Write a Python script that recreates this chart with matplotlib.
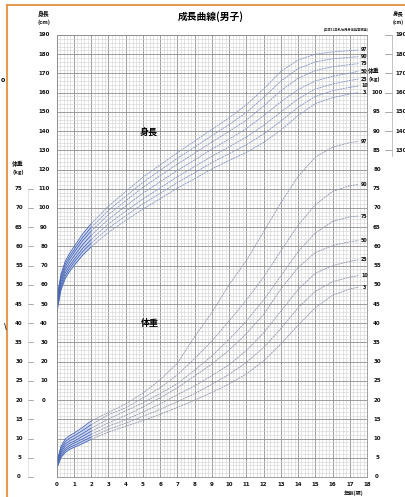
import numpy as np
import matplotlib
matplotlib.use("Agg")
import matplotlib.pyplot as plt
from matplotlib.transforms import blended_transform_factory

plt.rcParams['font.family'] = ['Noto Sans CJK JP', 'DejaVu Sans']

# age points (years)
ages = [0, 0.25, 0.5, 0.75, 1, 1.5, 2, 3, 4, 5, 6, 7, 8, 9, 10, 11, 12, 13, 14, 15, 16, 17, 17.5]
pct_names = ["3", "10", "25", "50", "75", "90", "97"]

# height percentiles, cm
h_p3 = [45.2, 57.4, 63.4, 67.0, 70.0, 75.4, 79.8, 87.3, 93.5, 99.4, 104.8, 110.3, 115.2, 120.3, 124.7, 128.9, 134.1, 140.5, 148.1, 154.3, 157.4, 159.3, 160.0]
h_p10 = [46.4, 58.7, 64.8, 68.5, 71.6, 77.2, 81.7, 89.5, 95.9, 102.1, 107.6, 113.2, 118.3, 123.6, 128.2, 132.9, 138.5, 145.2, 152.4, 158.0, 161.0, 162.8, 163.5]
h_p25 = [47.7, 60.0, 66.3, 70.0, 73.1, 78.9, 83.6, 91.7, 98.3, 104.7, 110.4, 116.2, 121.5, 126.9, 131.8, 136.9, 143.0, 149.9, 156.7, 161.9, 164.5, 166.3, 167.1]
h_p50 = [49.0, 61.5, 67.9, 71.7, 74.9, 80.9, 85.8, 94.1, 101.0, 107.7, 113.6, 119.5, 125.0, 130.6, 135.8, 141.3, 148.0, 155.2, 161.6, 166.1, 168.5, 170.2, 171.1]
h_p75 = [50.3, 63.0, 69.5, 73.4, 76.7, 82.9, 88.0, 96.5, 103.7, 110.7, 116.8, 122.8, 128.5, 134.3, 139.8, 145.7, 153.0, 161.0, 167.5, 171.5, 173.5, 174.6, 175.1]
h_p90 = [51.6, 64.3, 71.0, 74.9, 78.2, 84.6, 89.9, 98.7, 106.1, 113.3, 119.6, 125.8, 131.7, 137.6, 143.4, 149.7, 157.5, 166.0, 172.5, 176.0, 177.6, 178.4, 178.7]
h_p97 = [52.8, 65.6, 72.4, 76.4, 79.8, 86.4, 91.8, 100.9, 108.5, 116.0, 122.4, 128.7, 134.8, 140.9, 146.9, 153.7, 161.9, 171.0, 177.0, 180.0, 181.2, 181.9, 182.2]

# weight percentiles, kg
w_p3 = [2.1, 5.1, 6.4, 7.2, 7.7, 8.7, 9.8, 11.7, 13.2, 14.7, 16.3, 18.1, 20.0, 22.0, 24.2, 26.8, 30.2, 34.6, 39.5, 44.0, 47.3, 48.9, 49.4]
w_p10 = [2.5, 5.5, 6.9, 7.7, 8.2, 9.3, 10.4, 12.4, 14.0, 15.8, 17.6, 19.6, 21.7, 24.1, 26.7, 29.8, 33.7, 38.6, 44.0, 48.3, 50.8, 52.0, 52.4]
w_p25 = [2.8, 6.0, 7.4, 8.2, 8.8, 9.9, 11.1, 13.2, 14.9, 16.9, 19.0, 21.4, 23.7, 26.4, 29.2, 32.9, 37.5, 43.1, 48.8, 53.0, 55.0, 56.1, 56.5]
w_p50 = [3.0, 6.5, 8.0, 8.8, 9.3, 10.6, 11.9, 14.1, 16.0, 18.2, 20.6, 23.2, 26.3, 29.4, 33.0, 37.3, 42.3, 48.9, 54.5, 58.4, 60.2, 61.2, 61.5]
w_p75 = [3.3, 7.0, 8.6, 9.4, 10.0, 11.3, 12.7, 15.1, 17.2, 19.3, 21.7, 24.3, 27.8, 31.5, 35.8, 40.6, 46.0, 52.3, 58.6, 63.5, 66.5, 67.7, 67.9]
w_p90 = [3.6, 7.5, 9.2, 10.1, 10.7, 12.1, 13.6, 16.2, 18.0, 20.6, 23.2, 26.6, 30.8, 35.4, 40.6, 46.0, 52.0, 58.8, 65.5, 70.8, 74.3, 75.8, 76.1]
w_p97 = [3.8, 8.0, 9.9, 10.8, 11.4, 12.9, 14.6, 16.8, 19.0, 21.8, 25.3, 29.6, 36.5, 42.8, 50.0, 56.3, 63.8, 71.3, 78.2, 83.2, 85.8, 87.0, 87.3]

height_curves = [h_p3, h_p10, h_p25, h_p50, h_p75, h_p90, h_p97]
weight_curves = [w_p3, w_p10, w_p25, w_p50, w_p75, w_p90, w_p97]

# axis tick values
age_ticks = list(range(0, 19))
height_left = list(range(0, 191, 10))
height_right = list(range(130, 191, 10))
weight_left = list(range(0, 76, 5))
weight_right = list(range(0, 101, 5))


def w2h(w):
    # the weight scale shares the grid with height: 0 kg at -40 cm, 5 kg per 10 cm
    return 2 * np.asarray(w, dtype=float) - 40


W, H = 406, 497
fig = plt.figure(figsize=(W / 100, H / 100), dpi=100)
ax = fig.add_axes([56.7 / W, 1 - 477 / H, (367 - 56.7) / W, (477 - 35) / H])
ax.set_xlim(0, 18)
ax.set_ylim(-40, 190)

ax.set_xticks(age_ticks)
ax.set_xticks(np.arange(0, 18.01, 0.2), minor=True)
ax.set_yticks(np.arange(-40, 191, 10))
ax.set_yticks(np.arange(-40, 191, 2), minor=True)
ax.grid(which='minor', color='#d2d2d2', lw=0.4)
ax.grid(which='major', color='#8e8e8e', lw=0.6)
ax.set_axisbelow(True)
ax.tick_params(which='both', length=0, labelbottom=False, labelleft=False)
for sp in ax.spines.values():
    sp.set_color('#8e8e8e')
    sp.set_linewidth(0.6)

x = np.array(ages)
inf = x <= 2
later = x >= 2

# infant part, blue with light band
ax.fill_between(x[inf], np.array(h_p3)[inf], np.array(h_p97)[inf], color='#c4d0f0', alpha=0.75, lw=0)
ax.fill_between(x[inf], w2h(w_p3)[inf], w2h(w_p97)[inf], color='#c4d0f0', alpha=0.75, lw=0)
for hc, wc in zip(height_curves, weight_curves):
    hc = np.array(hc)
    wc = w2h(wc)
    ax.plot(x[inf], hc[inf], color='#4664b4', lw=0.6)
    ax.plot(x[inf], wc[inf], color='#4664b4', lw=0.6)
    ax.plot(x[later], hc[later], color='#8694c2', lw=0.6, ls=(0, (2.5, 0.8)))
    ax.plot(x[later], wc[later], color='#9298ae', lw=0.6, ls=(0, (2.5, 0.8)))

lab = dict(fontsize=4.0, fontweight='bold', color='#111111', va='center', ha='center',
           family=['DejaVu Sans'])
jlab = dict(fontsize=4.2, fontweight='bold', color='#111111', va='center', ha='center')
for name, hc, wc in zip(pct_names, height_curves, weight_curves):
    ax.text(17.85, hc[-1], name, clip_on=False, **{**lab, 'fontsize': 3.4})
    ax.text(17.85, w2h(wc[-1]), name, clip_on=False, **{**lab, 'fontsize': 3.4})

ax.text(5.35, 139, "身長", fontsize=6.5, fontweight='bold', ha='center', va='center')
ax.text(5.4, 40, "体重", fontsize=6.5, fontweight='bold', ha='center', va='center')

# side scales
tr = blended_transform_factory(fig.transFigure, ax.transData)
for v in weight_left:
    ax.text(19 / W, w2h(v), str(v), transform=tr, clip_on=False, **lab)
    ax.plot([28 / W, 33 / W], [w2h(v)] * 2, transform=tr, clip_on=False, color='#888888', lw=0.5)
ax.plot([28 / W, 28 / W], [w2h(0), w2h(75)], transform=tr, clip_on=False, color='#d0d0d0', lw=0.4)
for v in height_left:
    ax.text(44 / W, v, str(v), transform=tr, clip_on=False, **lab)
for v in weight_right:
    ax.text(377 / W, w2h(v), str(v), transform=tr, clip_on=False, **lab)
for v in height_right:
    ax.text(395 / W, v, str(v), transform=tr, clip_on=False, **{**lab, 'ha': 'left'})
    ax.plot([385 / W, 392 / W], [v, v], transform=tr, clip_on=False, color='#888888', lw=0.5)
ax.plot([392 / W, 392 / W], [height_right[0] - 3, height_right[-1]], transform=tr,
        clip_on=False, color='#aaaaaa', lw=0.5)

tx = blended_transform_factory(ax.transData, fig.transFigure)
for a in age_ticks:
    ax.text(a, 1 - 484 / H, str(a), transform=tx, clip_on=False, **lab)
ax.text(17.2, 1 - 493 / H, "年齢(歳)", transform=tx, clip_on=False, **{**jlab, 'fontsize': 3.8})

# unit headers
fig.text(44 / W, 1 - 14 / H, "身長", **jlab)
fig.text(44 / W, 1 - 22 / H, "(cm)", **jlab)
fig.text(18 / W, 1 - 164 / H, "体重", **jlab)
fig.text(18 / W, 1 - 172 / H, "(kg)", **jlab)
fig.text(374 / W, 1 - 71 / H, "体重", **jlab)
fig.text(374 / W, 1 - 79 / H, "(kg)", **jlab)
fig.text(393 / W, 1 - 14 / H, "身長", **{**jlab, 'ha': 'left', 'fontsize': 3.9})
fig.text(393 / W, 1 - 22 / H, "(cm)", **{**jlab, 'ha': 'left', 'fontsize': 3.6})

fig.text(211 / W, 1 - 17 / H, "成長曲線(男子)", fontsize=7, fontweight='bold', ha='center', va='center')
fig.text(346 / W, 1 - 29 / H, "(平成12年乳幼児身体発育調査)", fontsize=2.3, fontweight='bold',
         ha='center', va='center', color='#333333')

# orange page frame
fig.add_artist(plt.Line2D([7 / W, 1], [1 - 5 / H, 1 - 5 / H], color='#e39a52', lw=1.5))
fig.add_artist(plt.Line2D([7 / W, 7 / W], [0, 1 - 5 / H], color='#e39a52', lw=1.5))
fig.text(3 / W, 1 - 79 / H, "o", fontsize=5, fontweight='bold', ha='center', va='center')
fig.text(5 / W, 1 - 326 / H, "\\", fontsize=5, fontweight='bold', ha='center', va='center')

fig.savefig("out.png", dpi=100)
